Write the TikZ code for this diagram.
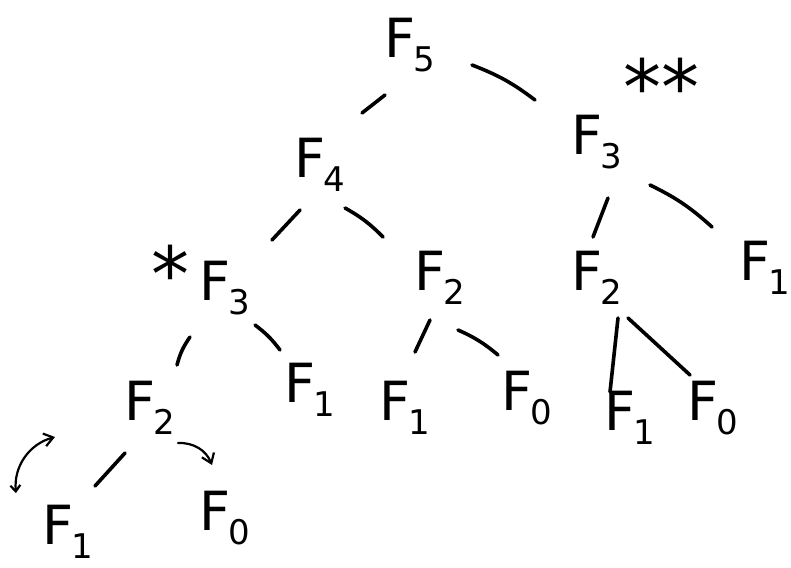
\documentclass[tikz,border=0pt]{standalone}
\usepackage{fontspec}
\setmainfont{DejaVu Sans}
\usetikzlibrary{calc,arrows.meta}
\newcommand\FibN[1]{F\kern-0.04em\raisebox{-0.27em}{\fontsize{34}{34}\selectfont #1}}
\begin{document}
\begin{tikzpicture}[x=1pt,y=-1pt,
  fib/.style={inner sep=0pt,font=\fontsize{54}{56}\selectfont},
  star/.style={inner sep=0pt,font=\fontsize{76}{76}\selectfont},
  edge/.style={line width=3.6pt,line cap=round},
  curvarrow/.style={line width=2.2pt,line cap=round,-{Straight Barb[length=9pt,width=13pt]}}]
\useasboundingbox (0,0) rectangle (791,567);
\node[fib] (f5) at (410,45) {\FibN{5}};
\node[fib] (f4) at (320,165) {\FibN{4}};
\node[fib] (f3r) at (597,142) {\FibN{3}};
\node[fib] (f3l) at (225,288) {\FibN{3}};
\node[fib] (f2m) at (440,278) {\FibN{2}};
\node[fib] (f2r) at (597,278) {\FibN{2}};
\node[fib] (f1r) at (765,268) {\FibN{1}};
\node[fib] (f2l) at (150,408) {\FibN{2}};
\node[fib] (f1a) at (310,390) {\FibN{1}};
\node[fib] (f1b) at (405,408) {\FibN{1}};
\node[fib] (f0a) at (527,398) {\FibN{0}};
\node[fib] (f1c) at (630,418) {\FibN{1}};
\node[fib] (f0b) at (713,408) {\FibN{0}};
\node[fib] (f1d) at (68,532) {\FibN{1}};
\node[fib] (f0c) at (225,518) {\FibN{0}};
\node[star] (s1) at (170,273) {*};
\node[star] (s2) at (661,86) {**};
\draw[edge] ([shift={(-25,50)}]f5.center) -- ([shift={(42,-52)}]f4.center);
\draw[edge] ([shift={(62,20)}]f5.center) to[bend left=8] ([shift={(-62,-42)}]f3r.center);
\draw[edge] ([shift={(-20,45)}]f4.center) -- ([shift={(47,-48)}]f3l.center);
\draw[edge] ([shift={(25,43)}]f4.center) to[bend left=8] ([shift={(-57,-41)}]f2m.center);
\draw[edge] ([shift={(11,56)}]f3r.center) -- ([shift={(-4,-41)}]f2r.center);
\draw[edge] ([shift={(53,43)}]f3r.center) to[bend left=8] ([shift={(-53,-41)}]f1r.center);
\draw[edge] ([shift={(-35,49)}]f3l.center) to[bend right=10] ([shift={(27,-43)}]f2l.center);
\draw[edge] ([shift={(30,37)}]f3l.center) to[bend left=8] ([shift={(-30,-40)}]f1a.center);
\draw[edge] ([shift={(-10,42)}]f2m.center) -- ([shift={(10,-56)}]f1b.center);
\draw[edge] ([shift={(18,52)}]f2m.center) to[bend left=8] ([shift={(-29,-43)}]f0a.center);
\draw[edge] ([shift={(21,40)}]f2r.center) -- ([shift={(-20,-26)}]f1c.center);
\draw[edge] ([shift={(31,40)}]f2r.center) -- ([shift={(-23,-33)}]f0b.center);
\draw[edge] ([shift={(-25,45)}]f2l.center) -- ([shift={(27,-46)}]f1d.center);
\draw[curvarrow] ([shift={(28,35)}]f2l.center) to[bend left=35] ([shift={(-13,-53)}]f0c.center);
\coordinate (la) at ([shift={(-52,-39)}]f1d.center);
\coordinate (lb) at ([shift={(-13,-95)}]f1d.center);
\draw[curvarrow,{Straight Barb[length=6pt,width=10pt]}-{Straight Barb[length=9pt,width=13pt]}] (la) to[bend left=40] (lb);
\end{tikzpicture}
\end{document}
